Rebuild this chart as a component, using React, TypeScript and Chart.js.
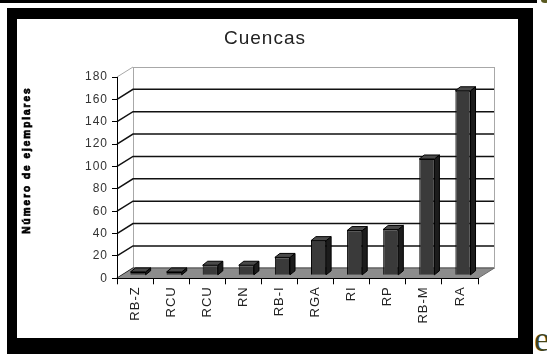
import React, { useEffect, useRef } from "react";
import { Chart, registerables } from "chart.js";

Chart.register(...registerables);

// ---- data ----
const categories = ["RB-Z", "RCU", "RCU", "RN", "RB-I", "RGA", "RI", "RP", "RB-M", "RA"];
const counts = [3, 3, 9, 9, 16, 31, 40, 41, 104, 165];
const yMin = 0;
const yMax = 180;
const yStep = 20;
const chartTitle = "Cuencas";
const yAxisTitle = "Número de ejemplares";

// ---- style constants ----
const FONT = "'Liberation Sans', Arial, sans-serif";
const WALL_DX = 16;
const WALL_DY = 10;
const BAR_DX = 5;
const BAR_DY = 4;
const BAR_SHIFT_X = 3;
const BAR_SHIFT_Y = -3;

const depthPlugin = {
  id: "depth3d",
  beforeLayout(chart: any) {
    chart.ctx.letterSpacing = "1px";
  },
  beforeDraw(chart: any) {
    const { ctx, chartArea } = chart;
    const { left, right, top, bottom } = chartArea;
    const ys = chart.scales.y;
    ctx.letterSpacing = "1px";
    ctx.save();
    const bl = left + WALL_DX;
    const br = right + WALL_DX;
    const bt = top - WALL_DY;
    const bb = bottom - WALL_DY;
    // back wall
    ctx.fillStyle = "#ffffff";
    ctx.fillRect(bl, bt, br - bl, bb - bt);
    ctx.strokeStyle = "#a8a8a8";
    ctx.lineWidth = 1;
    ctx.strokeRect(Math.round(bl) + 0.5, Math.round(bt) + 0.5, Math.round(br - bl), Math.round(bb - bt));
    // grid lines on back wall + connectors to the front axis
    ys.ticks.forEach((t: any) => {
      const py = ys.getPixelForValue(t.value);
      const isEdge = t.value === yMax;
      ctx.strokeStyle = isEdge ? "#a8a8a8" : "#111111";
      ctx.lineWidth = isEdge ? 1 : 1.5;
      ctx.beginPath();
      ctx.moveTo(left, py);
      ctx.lineTo(bl, py - WALL_DY);
      if (!isEdge) ctx.lineTo(br, py - WALL_DY);
      ctx.stroke();
    });
    // floor
    ctx.fillStyle = "#8c8c8c";
    ctx.beginPath();
    ctx.moveTo(left, bottom);
    ctx.lineTo(right, bottom);
    ctx.lineTo(br, bb);
    ctx.lineTo(bl, bb);
    ctx.closePath();
    ctx.fill();
    ctx.strokeStyle = "#6a6a6a";
    ctx.lineWidth = 1;
    ctx.beginPath();
    ctx.moveTo(right, bottom);
    ctx.lineTo(br, bb);
    ctx.stroke();
    ctx.restore();
  },
  beforeDatasetsDraw(chart: any) {
    const { ctx } = chart;
    ctx.save();
    ctx.translate(BAR_SHIFT_X, BAR_SHIFT_Y);
    const meta = chart.getDatasetMeta(0);
    meta.data.forEach((bar: any) => {
      const { x, y, base, width } = bar.getProps(["x", "y", "base", "width"], true);
      const l = x - width / 2;
      const r = x + width / 2;
      ctx.lineWidth = 1;
      ctx.strokeStyle = "#000";
      // side face
      ctx.fillStyle = "#1c1c1c";
      ctx.beginPath();
      ctx.moveTo(r, y);
      ctx.lineTo(r + BAR_DX, y - BAR_DY);
      ctx.lineTo(r + BAR_DX, base - BAR_DY);
      ctx.lineTo(r, base);
      ctx.closePath();
      ctx.fill();
      ctx.stroke();
      // top face
      ctx.fillStyle = "#4a4a4a";
      ctx.beginPath();
      ctx.moveTo(l, y);
      ctx.lineTo(l + BAR_DX, y - BAR_DY);
      ctx.lineTo(r + BAR_DX, y - BAR_DY);
      ctx.lineTo(r, y);
      ctx.closePath();
      ctx.fill();
      ctx.stroke();
    });
  },
  afterDatasetsDraw(chart: any) {
    chart.ctx.restore();
  },
  afterDraw(chart: any) {
    const { ctx } = chart;
    ctx.save();
    ctx.translate(27, 160);
    ctx.rotate(-Math.PI / 2);
    ctx.font = "bold 10px " + FONT;
    ctx.letterSpacing = "2px";
    ctx.fillStyle = "#000";
    ctx.strokeStyle = "#000";
    ctx.lineWidth = 0.7;
    ctx.textAlign = "center";
    ctx.textBaseline = "middle";
    ctx.fillText(yAxisTitle, 0, 0);
    ctx.strokeText(yAxisTitle, 0, 0);
    ctx.restore();
  },
};

export default function App() {
  const canvasRef = useRef<HTMLCanvasElement | null>(null);

  useEffect(() => {
    const canvas = canvasRef.current;
    if (!canvas) return;
    const chart = new Chart(canvas, {
      type: "bar",
      data: {
        labels: categories,
        datasets: [
          {
            data: counts,
            backgroundColor: "#3a3a3a",
            borderColor: "#000000",
            borderWidth: 1,
            barPercentage: 0.42,
            categoryPercentage: 1,
          },
        ],
      },
      options: {
        responsive: false,
        animation: false,
        devicePixelRatio: 1,
        layout: { padding: { left: 52, right: 69, top: 19, bottom: 16.7 } },
        plugins: {
          legend: { display: false },
          tooltip: { enabled: false },
          title: {
            display: true,
            text: chartTitle,
            color: "#222",
            font: { family: FONT, size: 19, weight: "normal" },
            padding: { top: 8.6, bottom: 26.6 },
          },
        },
        scales: {
          x: {
            offset: true,
            grid: {
              display: true,
              drawOnChartArea: false,
              drawTicks: true,
              tickLength: 6,
              color: "#000",
              offset: true,
            },
            border: { display: true, color: "#000", width: 1 },
            ticks: {
              autoSkip: false,
              minRotation: 90,
              maxRotation: 90,
              padding: 2,
              color: "#222",
              font: { family: FONT, size: 13 },
            },
            afterFit(s: any) {
              s.height = 59;
            },
          },
          y: {
            min: yMin,
            max: yMax,
            grid: { drawOnChartArea: false, drawTicks: true, tickLength: 5, color: "#000" },
            border: { display: true, color: "#000", width: 1 },
            ticks: {
              stepSize: yStep,
              padding: 4,
              color: "#333",
              font: { family: FONT, size: 12 },
            },
            afterFit(s: any) {
              s.width = 65;
            },
          },
        },
      },
      plugins: [depthPlugin],
    });
    return () => chart.destroy();
  }, []);

  return (
    <div
      style={{
        position: "absolute",
        left: 0,
        top: 0,
        width: 547,
        height: 354,
        overflow: "hidden",
        background: "#fff",
      }}
    >
      <div style={{ position: "absolute", left: 0, top: 0, width: 537, height: 3, background: "#000" }} />
      <div
        style={{
          position: "absolute",
          left: 541,
          top: -3,
          width: 8,
          height: 6,
          borderRadius: "50%",
          background: "#5a5a20",
        }}
      />
      <div style={{ position: "absolute", left: 7, top: 8, width: 526, height: 346, background: "#000" }} />
      <div style={{ position: "absolute", left: 17, top: 19, width: 501, height: 319, background: "#fff" }} />
      <div
        style={{
          position: "absolute",
          left: 534,
          top: 321,
          fontFamily: "'Liberation Serif', 'Times New Roman', serif",
          fontSize: 36,
          lineHeight: 1,
          color: "#45451a",
        }}
      >
        e
      </div>
      <canvas
        ref={canvasRef}
        width={547}
        height={354}
        style={{ position: "absolute", left: 0, top: 0, width: 547, height: 354 }}
      />
    </div>
  );
}
